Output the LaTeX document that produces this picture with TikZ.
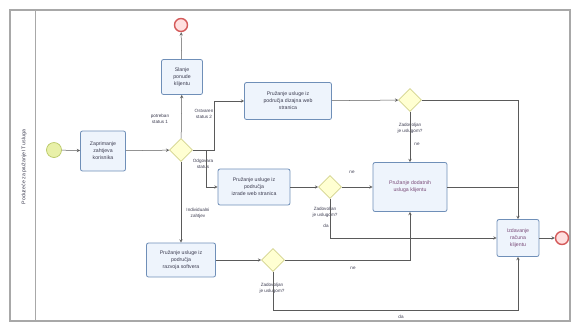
\documentclass[tikz,border=0pt]{standalone}
\usepackage{fontspec}
\setmainfont{Liberation Sans}
\usepackage{xcolor}
\usetikzlibrary{shapes.geometric,positioning}

\definecolor{taskfill}{HTML}{EEF4FC}
\definecolor{taskline}{HTML}{6F8FB8}
\definecolor{gatefill}{HTML}{FFFFD2}
\definecolor{gateline}{HTML}{D2D28C}
\definecolor{startfill}{HTML}{E8F0A8}
\definecolor{startline}{HTML}{B9C866}
\definecolor{endfill}{HTML}{FFE0E0}
\definecolor{endline}{HTML}{D45A5A}
\definecolor{flowcol}{HTML}{5A5A5A}
\definecolor{poolline}{HTML}{A8A8A8}
\definecolor{textcol}{HTML}{3C3C50}
\definecolor{textpink}{HTML}{7A4A78}

\begin{document}
\begin{tikzpicture}[x=1pt,y=-1pt,
  task/.style={rectangle,rounded corners=2pt,draw=taskline,fill=taskfill,line width=0.8pt,align=center,
    font=\fontsize{5.2}{7}\selectfont,text=textcol,inner sep=1pt},
  gate/.style={diamond,aspect=1,draw=gateline,fill=gatefill,line width=0.6pt,minimum width=23pt,minimum height=23pt,inner sep=0pt},
  startev/.style={circle,draw=startline,fill=startfill,line width=0.7pt,minimum size=15pt,inner sep=0pt},
  endev/.style={circle,draw=endline,fill=endfill,line width=1.4pt,minimum size=13pt,inner sep=0pt},
  lbl/.style={align=center,font=\fontsize{4.6}{5.8}\selectfont,text=textcol,inner sep=0pt},
  flow/.style={draw=flowcol,line width=0.5pt,-stealth},
  line/.style={draw=flowcol,line width=0.5pt}]
\useasboundingbox (0,0) rectangle (577,325);

% pool and lane
\draw[poolline,line width=1.2pt] (10,10) rectangle (570,321);
\draw[poolline,line width=0.9pt] (35,10) -- (35,321);
\node[lbl,rotate=90,font=\fontsize{5.2}{6}\selectfont] (lane) at (24,167) {Poduzeće za pružanje IT usluga};

% events and tasks
\node[startev] (start) at (54,150) {};
\node[task,minimum width=45pt,minimum height=40pt] (recv) at (103,151) {Zaprimanje\\zahtjeva\\korisnika};
\node[gate] (g1) at (181,150) {};
\node[task,minimum width=41pt,minimum height=35pt] (offer) at (182,77) {Slanje\\ponude\\klijentu};
\node[endev] (endtop) at (181,25) {};
\node[task,minimum width=87pt,minimum height=37pt] (design) at (288,101) {Pružanje usluge iz\\područja dizajna web\\stranica};
\node[gate] (g2) at (410,100) {};
\node[task,minimum width=72pt,minimum height=36pt] (web) at (254,187) {Pružanje usluge iz\\područja\\izrade web stranica};
\node[gate] (g3) at (330,187) {};
\node[task,minimum width=74pt,minimum height=49pt,text=textpink] (extra) at (410,187) {Pružanje dodatnih\\usluga klijentu};
\node[task,minimum width=69pt,minimum height=34pt] (soft) at (181,260) {Pružanje usluge iz\\područja\\razvoja softvera};
\node[gate] (g4) at (273,260) {};
\node[task,minimum width=42pt,minimum height=37pt,text=textpink] (inv) at (518,238) {Izdavanje\\računa\\klijentu};
\node[endev] (endright) at (562,238) {};
\coordinate (join) at (518,187);
\coordinate (bot) at (518,310);

% labels
\node[lbl] (lstat1) at (160,119) {potreban\\status 1};
\node[lbl] (lstat2) at (204,114) {Ostvaren\\status 2};
\node[lbl] (lodg) at (203,164) {Odgovara\\status};
\node[lbl] (lind) at (198,213) {Individualni\\zahtjev};
\node[lbl] (lq2) at (410,128) {Zadovoljan\\je uslugom?};
\node[lbl] (lne2) at (417,144) {ne};
\node[lbl] (lne3) at (352,172) {ne};
\node[lbl] (lq3) at (325,212) {Zadovoljan\\je uslugom?};
\node[lbl] (lda3) at (326,226) {da};
\node[lbl] (lq4) at (272,288) {Zadovoljan\\je uslugom?};
\node[lbl] (lne4) at (353,268) {ne};
\node[lbl] (lda4) at (401,317) {da};

% flows
\draw[flow] (start) -- (recv);
\draw[flow] (recv) -- (g1);
\draw[flow] (g1) -- (offer);
\draw[flow] (offer) -- (endtop);
\draw[flow] (g1.east) -- ++(21,0) |- (design);
\draw[flow] (g1.east) -- ++(13,0) |- (web);
\draw[flow] (g1) -- (soft);
\draw[flow] (design) -- (g2);
\draw[flow] (g2) -- (extra);
\draw[flow] (g2) -| (inv);
\draw[line] (extra) -- (join);
\draw[flow] (web) -- (g3);
\draw[flow] (g3) -- (extra);
\draw[flow] (g3) |- (inv);
\draw[flow] (soft) -- (g4);
\draw[flow] (g4) -| (extra);
\draw[flow] (g4) |- (bot) -- (inv);
\draw[flow] (inv) -- (endright);
\end{tikzpicture}
\end{document}
